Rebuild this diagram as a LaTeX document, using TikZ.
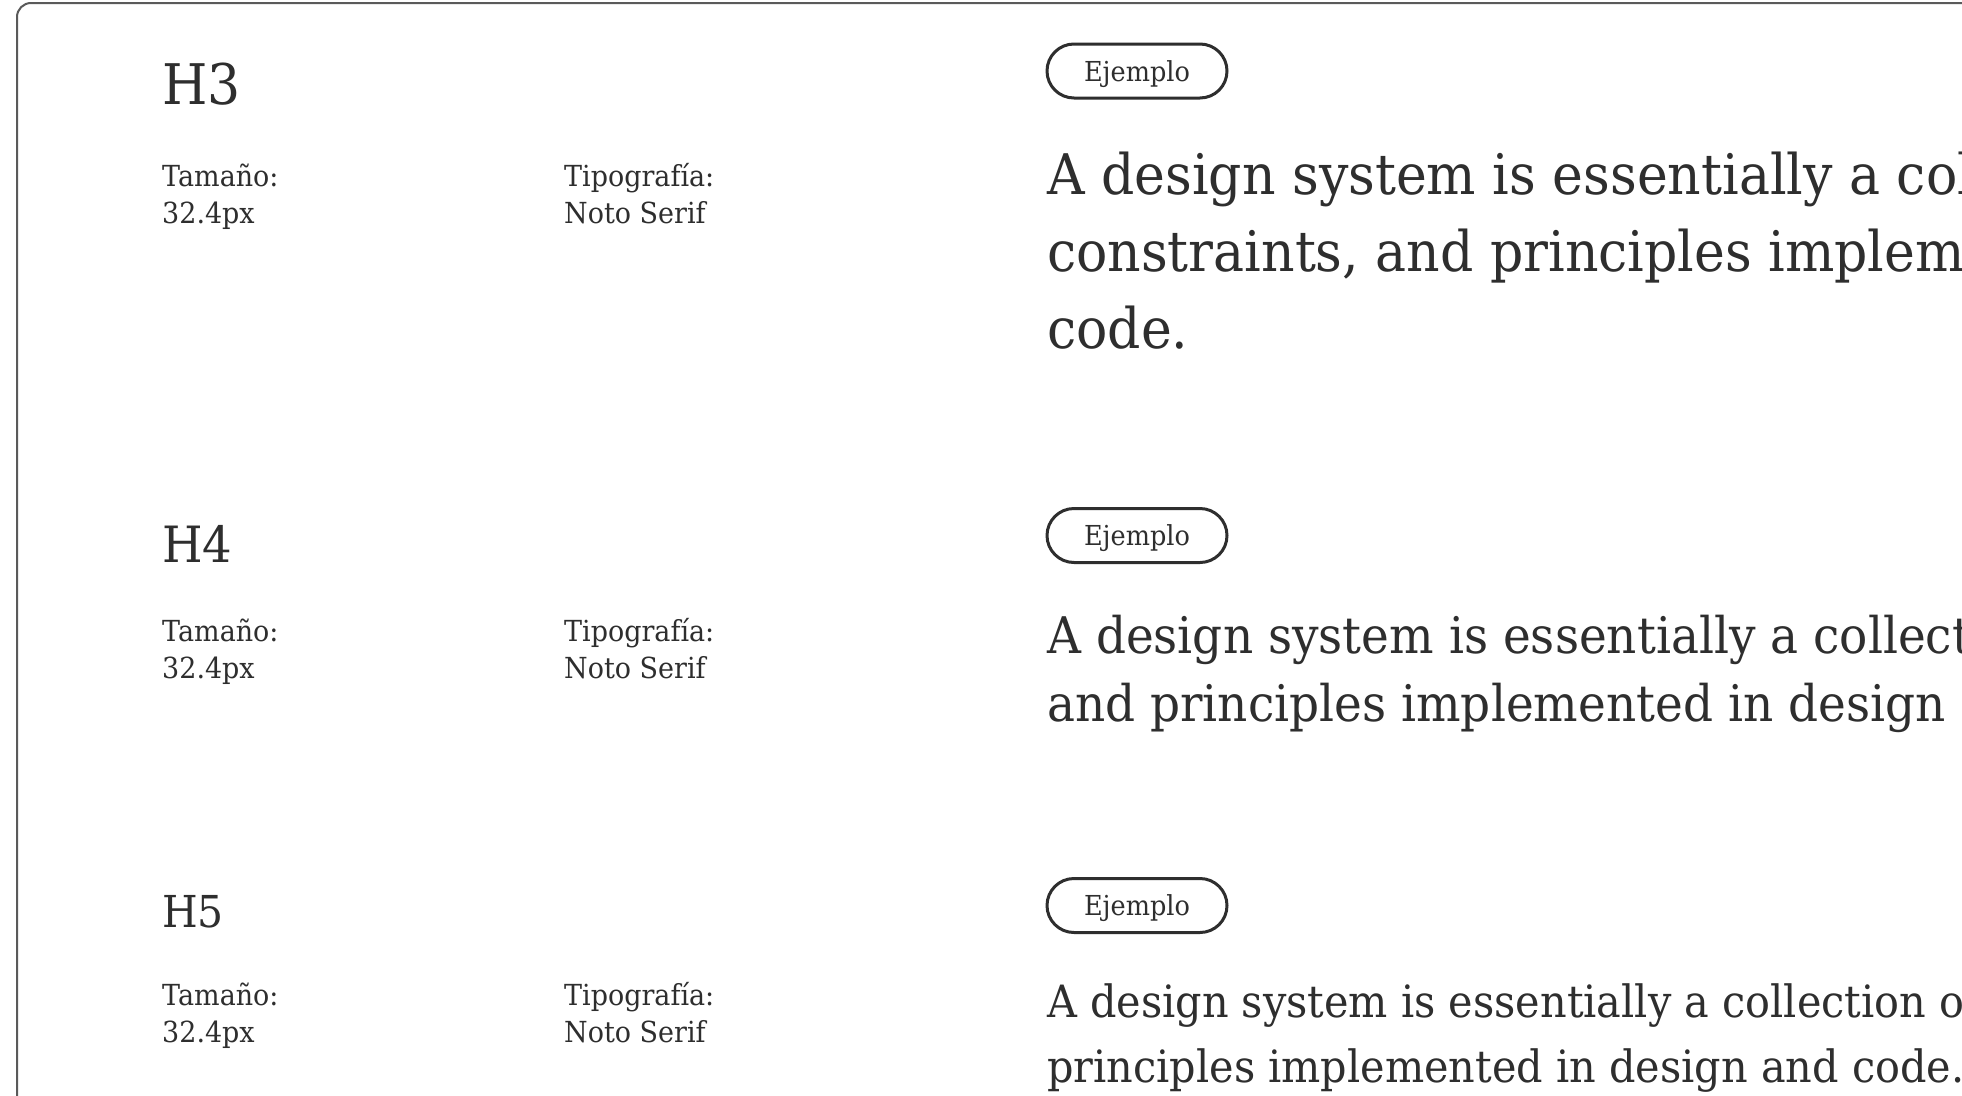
\documentclass[tikz,border=0pt]{standalone}
\usepackage{fontspec}
\setmainfont[FakeStretch=0.93]{DejaVu Serif}
\usetikzlibrary{positioning}
\definecolor{inkgray}{HTML}{2E2E2E}
\definecolor{framegray}{HTML}{5A5A5A}

\begin{document}
\begin{tikzpicture}[x = 1pt, y = -1pt,
  heading/.style = {anchor = base west, inner sep = 0pt, text = inkgray},
  metainfo/.style = {anchor = base west, inner sep = 0pt, text = inkgray, align = left,
    font = \fontsize{29}{37}\selectfont},
  pill/.style = {draw = inkgray, line width = 3pt, rounded corners = 27pt, text = inkgray,
    minimum width = 180pt, minimum height = 54pt, inner sep = 0pt,
    text height = 20pt, text depth = 0pt, font = \fontsize{27.5}{30}\selectfont},
  sample/.style = {anchor = base west, inner sep = 0pt, text = inkgray, align = left}]
  \useasboundingbox (0,0) rectangle (1962,1095);
  \clip (0,0) rectangle (1962,1095);
  \fill[white] (0,0) rectangle (1962,1095);
  \draw[framegray, line width = 2pt, rounded corners = 14pt] (17,1120) -- (17,3) -- (1990,3);

  % H3 (multi-line nodes sit on their last baseline)
  \node[heading, font = \fontsize{56}{60}\selectfont] (h3) at (162,104) {H3};
  \node[metainfo] (h3size) at (162,223) {Tamaño:\\32.4px};
  \node[metainfo] (h3font) at (564,223) {Tipografía:\\Noto Serif};
  \node[pill] (h3tag) at (1137,71) {Ejemplo};
  \node[sample, font = \fontsize{56}{77}\selectfont] (h3text) at (1047,348)
    {A design system is essentially a collection\\constraints, and principles implemented\\code.};

  % H4
  \node[heading, font = \fontsize{50}{54}\selectfont] (h4) at (162,562) {H4};
  \node[metainfo] (h4size) at (162,678) {Tamaño:\\32.4px};
  \node[metainfo] (h4font) at (564,678) {Tipografía:\\Noto Serif};
  \node[pill] (h4tag) at (1137,535.5) {Ejemplo};
  \node[sample, font = \fontsize{50.5}{68}\selectfont] (h4text) at (1047,721)
    {A design system is essentially a collection\\and principles implemented in design};

  % H5
  \node[heading, font = \fontsize{44}{48}\selectfont] (h5) at (162,927) {H5};
  \node[metainfo] (h5size) at (162,1042) {Tamaño:\\32.4px};
  \node[metainfo] (h5font) at (564,1042) {Tipografía:\\Noto Serif};
  \node[pill] (h5tag) at (1137,905.5) {Ejemplo};
  \node[sample, font = \fontsize{44.5}{65}\selectfont] (h5text) at (1047,1082)
    {A design system is essentially a collection of\\principles implemented in design and code.};
\end{tikzpicture}
\end{document}
